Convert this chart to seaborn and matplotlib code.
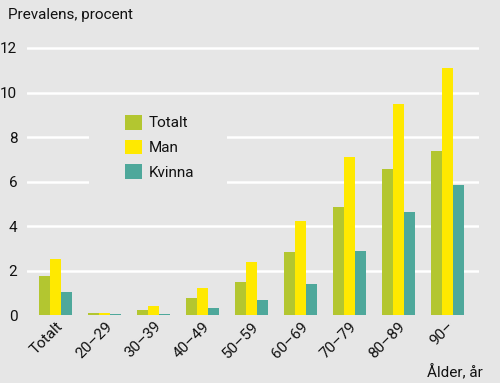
import matplotlib
matplotlib.use("Agg")
import matplotlib.pyplot as plt
import pandas as pd
import seaborn as sns
from matplotlib.patches import Rectangle

CATEGORIES = ["Totalt", "20–29", "30–39", "40–49", "50–59", "60–69", "70–79", "80–89", "90–"]
TOTALT = [1.75, 0.10, 0.22, 0.76, 1.50, 2.82, 4.87, 6.55, 7.36]
MAN = [2.50, 0.10, 0.39, 1.21, 2.38, 4.21, 7.11, 9.48, 11.10]
KVINNA = [1.05, 0.05, 0.05, 0.30, 0.66, 1.38, 2.86, 4.61, 5.83]
SERIES = ["Totalt", "Man", "Kvinna"]
COLORS = ["#b3c630", "#ffe900", "#4ea89b"]
Y_TICKS = [0, 2, 4, 6, 8, 10, 12]

BG = "#e6e6e6"
FONT = ["Roboto", "DejaVu Sans"]
FS = 11

df = pd.DataFrame({
    "group": CATEGORIES * 3,
    "series": ["Totalt"] * 9 + ["Man"] * 9 + ["Kvinna"] * 9,
    "value": TOTALT + MAN + KVINNA,
})

sns.set_theme(style="white")
plt.rcParams["font.family"] = FONT

fig = plt.figure(figsize=(5, 3.83), dpi=100, facecolor=BG)
ax = fig.add_axes([0.054, 0.1775, 0.904, 0.7117])
ax.set_facecolor(BG)

sns.barplot(data=df, x="group", y="value", hue="series", hue_order=SERIES,
            palette=COLORS, width=0.68, linewidth=0, saturation=1, ax=ax)

ax.set_xlim(-0.59, 8.65)
ax.set_ylim(0, 12.25)
ax.set_yticks(Y_TICKS)
for y in Y_TICKS[1:]:
    ax.axhline(y, color="white", lw=1.8, zorder=0.5)
# mask behind the legend
ax.add_patch(Rectangle((0.137, 0.45), 0.305, 0.3, transform=ax.transAxes,
                       facecolor=BG, edgecolor="none", zorder=0.6))

for s in ax.spines.values():
    s.set_visible(False)
ax.tick_params(axis="both", length=0, labelsize=FS, colors="#111111")
ax.tick_params(axis="y", pad=7)
ax.tick_params(axis="x", pad=3)
plt.setp(ax.get_xticklabels(), rotation=45, ha="right", rotation_mode="anchor")
ax.set_xlabel("")
ax.set_ylabel("")

leg = ax.legend(loc="upper left", bbox_to_anchor=(0.201, 0.762), frameon=False,
                fontsize=FS, handlelength=1.1, handleheight=1.1,
                handletextpad=0.4, labelspacing=0.6, borderpad=0)
for t in leg.get_texts():
    t.set_color("#111111")

fig.text(8 / 500, 1 - 15 / 383, "Prevalens, procent", fontsize=FS,
         color="#111111", va="center", ha="left")
fig.text(483 / 500, 1 - 372 / 383, "Ålder, år", fontsize=FS,
         color="#111111", va="center", ha="right")

fig.savefig("out.png", dpi=100, facecolor=BG)
